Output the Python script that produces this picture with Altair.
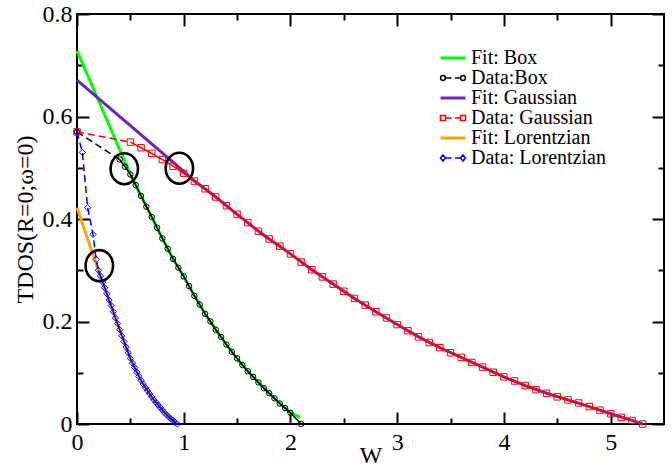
import altair as alt
import pandas as pd

# ---------------- data ----------------
series_names = ["Fit: Box", "Data:Box", "Fit: Gaussian", "Data: Gaussian",
                "Fit: Lorentzian", "Data: Lorentzian"]
series_colors = ["#00ff00", "#000000", "#7221bc", "#ff0000", "#ffa500", "#0000ff"]

box_x = [0.0, 0.4, 0.45, 0.5, 0.55, 0.6, 0.65, 0.7, 0.75, 0.8, 0.85, 0.9, 0.95,
         1.0, 1.05, 1.1, 1.15, 1.2, 1.25, 1.3, 1.35, 1.4, 1.45, 1.5, 1.55, 1.6,
         1.65, 1.7, 1.75, 1.8, 1.85, 1.9, 1.95, 2.0, 2.1]
box_y = [0.570, 0.516, 0.502, 0.487, 0.466, 0.445, 0.424, 0.404, 0.383, 0.362,
         0.342, 0.322, 0.305, 0.288, 0.269, 0.250, 0.233, 0.215, 0.200, 0.184,
         0.170, 0.155, 0.141, 0.128, 0.115, 0.103, 0.092, 0.081, 0.070, 0.060,
         0.050, 0.040, 0.031, 0.022, 0.000]

box_fit_x = [0.0, 0.5, 0.6, 0.7, 0.8, 0.9, 1.0, 1.1, 1.2, 1.3, 1.4, 1.5, 1.6,
             1.7, 1.8, 1.9, 2.0, 2.09]
box_fit_y = [0.728, 0.487, 0.445, 0.404, 0.362, 0.322, 0.288, 0.250, 0.215,
             0.184, 0.155, 0.128, 0.103, 0.081, 0.060, 0.040, 0.022, 0.013]

gau_x = [0.0, 0.5, 0.6, 0.7, 0.8, 0.9, 1.0, 1.1, 1.2, 1.3, 1.4, 1.5, 1.6, 1.7,
         1.8, 1.9, 2.0, 2.1, 2.2, 2.3, 2.4, 2.5, 2.6, 2.7, 2.8, 2.9, 3.0, 3.1,
         3.2, 3.3, 3.4, 3.5, 3.6, 3.7, 3.8, 3.9, 4.0, 4.1, 4.2, 4.3, 4.4, 4.5,
         4.6, 4.7, 4.8, 4.9, 5.0, 5.1, 5.2, 5.3]
gau_y = [0.570, 0.550, 0.539, 0.528, 0.516, 0.503, 0.489, 0.474, 0.459, 0.443,
         0.426, 0.409, 0.393, 0.376, 0.361, 0.347, 0.332, 0.316, 0.301, 0.287,
         0.273, 0.259, 0.245, 0.232, 0.219, 0.207, 0.194, 0.182, 0.170, 0.159,
         0.149, 0.139, 0.130, 0.120, 0.111, 0.101, 0.092, 0.084, 0.075, 0.067,
         0.060, 0.053, 0.047, 0.041, 0.034, 0.027, 0.020, 0.013, 0.007, 0.000]

gau_fit_x = [0.0, 0.5, 1.0, 1.1, 1.2, 1.3, 1.4, 1.5, 1.6, 1.7, 1.8, 1.9, 2.0,
             2.2, 2.4, 2.6, 2.8, 3.0, 3.2, 3.4, 3.6, 3.8, 4.0, 4.2, 4.4, 4.6,
             4.8, 5.0, 5.2, 5.3]
gau_fit_y = [0.671, 0.582, 0.493, 0.474, 0.459, 0.443, 0.426, 0.409, 0.393,
             0.376, 0.361, 0.347, 0.332, 0.301, 0.273, 0.245, 0.219, 0.194,
             0.170, 0.149, 0.130, 0.111, 0.092, 0.075, 0.060, 0.047, 0.034,
             0.020, 0.007, 0.000]

lor_x = [0.0, 0.05, 0.1, 0.15, 0.18, 0.20, 0.22, 0.24, 0.26, 0.28, 0.30, 0.32,
         0.34, 0.36, 0.38, 0.40, 0.42, 0.44, 0.46, 0.48, 0.50, 0.52, 0.54, 0.56,
         0.58, 0.60, 0.62, 0.64, 0.66, 0.68, 0.70, 0.72, 0.74, 0.76, 0.78, 0.80,
         0.82, 0.84, 0.86, 0.88, 0.90, 0.92, 0.94]
lor_y = [0.570, 0.530, 0.422, 0.370, 0.321, 0.300, 0.289, 0.277, 0.266, 0.254,
         0.242, 0.231, 0.219, 0.207, 0.196, 0.184, 0.172, 0.161, 0.150, 0.139,
         0.128, 0.119, 0.110, 0.101, 0.093, 0.085, 0.078, 0.071, 0.065, 0.059,
         0.053, 0.047, 0.042, 0.037, 0.032, 0.027, 0.022, 0.018, 0.014, 0.010,
         0.007, 0.003, 0.000]

lor_fit_x = [0.0, 0.2, 0.3, 0.4, 0.5, 0.6, 0.7, 0.8, 0.9, 0.92]
lor_fit_y = [0.422, 0.300, 0.242, 0.184, 0.128, 0.085, 0.053, 0.027, 0.007, 0.003]

ring_x = [0.443, 0.959, 0.209]
ring_y = [0.498, 0.499, 0.309]

x_major = [0, 1, 2, 3, 4, 5]
x_minor = [0.5, 1.5, 2.5, 3.5, 4.5]
y_major = [0.0, 0.2, 0.4, 0.6, 0.8]
y_minor = [0.1, 0.3, 0.5, 0.7]

# ---------------- style ----------------
W, H = 587, 410
FONT = "Liberation Serif"
PURPLE = series_colors[2]

xs = alt.Scale(domain=[0, 5.5], nice=False, zero=False)
ys = alt.Scale(domain=[0, 0.8], nice=False, zero=False)

fit_glyph = "M -2.08 -0.11 L 2.08 -0.11 M -2.08 0.11 L 2.08 0.11"
circ_glyph = ("M -2.07 0 A 0.4 0.4 0 1 1 -1.27 0 A 0.4 0.4 0 1 1 -2.07 0 "
              "M -1.27 0 L -0.25 0 M 0.33 0 L 1.27 0 "
              "M 1.27 0 A 0.4 0.4 0 1 1 2.07 0 A 0.4 0.4 0 1 1 1.27 0")
sq_glyph = ("M -2.09 -0.42 L -1.25 -0.42 L -1.25 0.42 L -2.09 0.42 Z "
            "M -1.25 0 L -0.25 0 M 0.33 0 L 1.25 0 "
            "M 1.25 -0.42 L 2.09 -0.42 L 2.09 0.42 L 1.25 0.42 Z")
dia_glyph = ("M -1.67 -0.5 L -1.25 0 L -1.67 0.5 L -2.09 0 Z "
             "M -1.25 0 L -0.25 0 M 0.33 0 L 1.25 0 "
             "M 1.67 -0.5 L 2.09 0 L 1.67 0.5 L 1.25 0 Z")
glyphs = [fit_glyph, circ_glyph, fit_glyph, sq_glyph, fit_glyph, dia_glyph]
ellipse_path = "M 0 -1 A 0.885 1 0 1 1 0 1 A 0.885 1 0 1 1 0 -1 Z"


def tick_axis(orient, offset, values, size):
    return alt.Axis(orient=orient, offset=offset, values=values, labels=False,
                    domain=False, ticks=True, tickSize=size, tickWidth=2,
                    tickColor="black", grid=False, title="")


main_x_axis = alt.Axis(orient="bottom", values=x_major, format="d", ticks=False,
                       tickSize=0, domain=False, labelPadding=6, labelFlush=False,
                       labelOverlap=False, grid=False, titlePadding=-11)
main_y_axis = alt.Axis(orient="left", values=y_major, format="~g", ticks=False,
                       tickSize=0, domain=False, labelPadding=5, labelOverlap=False,
                       grid=False, titlePadding=5)

df_box = pd.DataFrame({"x": box_x, "y": box_y})
df_box_fit = pd.DataFrame({"x": box_fit_x, "y": box_fit_y})
df_gau = pd.DataFrame({"x": gau_x, "y": gau_y})
df_gau_fit = pd.DataFrame({"x": gau_fit_x, "y": gau_fit_y})
df_lor = pd.DataFrame({"x": lor_x, "y": lor_y})
df_lor_fit = pd.DataFrame({"x": lor_fit_x, "y": lor_fit_y})
df_ring = pd.DataFrame({"x": ring_x, "y": ring_y})
df_leg = pd.DataFrame({"series": series_names})


def enc(chart, xaxis=None, yaxis=None):
    return chart.encode(
        x=alt.X("x:Q", scale=xs, axis=xaxis),
        y=alt.Y("y:Q", scale=ys, axis=yaxis),
    )


# fits
fit_box = alt.Chart(df_box_fit).mark_line(color=series_colors[0], strokeWidth=3).encode(
    x=alt.X("x:Q", scale=xs, axis=main_x_axis, title="W"),
    y=alt.Y("y:Q", scale=ys, axis=main_y_axis, title="TDOS(R=0;ω=0)"),
)
fit_gau = enc(alt.Chart(df_gau_fit).mark_line(color=PURPLE, strokeWidth=3),
              tick_axis("top", -H, x_major, 12), tick_axis("right", -W, y_major, 12))
fit_lor = enc(alt.Chart(df_lor_fit).mark_line(color=series_colors[4], strokeWidth=3),
              tick_axis("top", -H, x_minor, 6), tick_axis("right", -W, y_minor, 6))

# data lines (dashed lead-in, then solid)
dash = [7, 4]
box_head = enc(alt.Chart(df_box).transform_filter("datum.x <= 0.4")
               .mark_line(color="black", strokeWidth=1.5, strokeDash=dash),
               tick_axis("bottom", -H, x_major, 12), tick_axis("left", -W, y_major, 12))
box_rest = enc(alt.Chart(df_box).transform_filter("datum.x >= 0.4")
               .mark_line(color="black", strokeWidth=1.5),
               tick_axis("bottom", -H, x_minor, 6), tick_axis("left", -W, y_minor, 6))
gau_head = enc(alt.Chart(df_gau).transform_filter("datum.x <= 0.5")
               .mark_line(color="#ff0000", strokeWidth=1.5, strokeDash=dash))
gau_rest = enc(alt.Chart(df_gau).transform_filter("datum.x >= 0.5")
               .mark_line(color="#ff0000", strokeWidth=1.5))
lor_head = enc(alt.Chart(df_lor).transform_filter("datum.x <= 0.2")
               .mark_line(color="#0000ff", strokeWidth=1.5, strokeDash=dash))
lor_rest = enc(alt.Chart(df_lor).transform_filter("datum.x >= 0.2")
               .mark_line(color="#0000ff", strokeWidth=1.5))

# markers
box_pts = enc(alt.Chart(df_box).mark_point(shape="circle", filled=False, size=30,
                                           color="black", strokeWidth=1, opacity=1))
gau_pts = enc(alt.Chart(df_gau).mark_point(shape="square", filled=False, size=42,
                                           color="#ff0000", strokeWidth=1, opacity=1))
lor_pts = enc(alt.Chart(df_lor).mark_point(shape="diamond", filled=False, size=40,
                                           color="#0000ff", strokeWidth=1, opacity=1))

rings = enc(alt.Chart(df_ring).mark_point(shape=ellipse_path, size=961, filled=False,
                                          color="black", strokeWidth=2.6, opacity=1))

legend = alt.Legend(orient="none", legendX=366, legendY=34, title=None, padding=0,
                    labelFont=FONT, labelFontSize=20, labelColor="black",
                    symbolSize=144, symbolStrokeWidth=1.5, labelOffset=8,
                    rowPadding=0, symbolFillColor="transparent")
legend_src = alt.Chart(df_leg).transform_filter("false").mark_point(
    filled=False, opacity=1).encode(
    color=alt.Color("series:N", scale=alt.Scale(domain=series_names, range=series_colors),
                    legend=legend),
    shape=alt.Shape("series:N", scale=alt.Scale(domain=series_names, range=glyphs),
                    legend=legend),
)

chart = alt.layer(
    fit_box, fit_gau, fit_lor,
    box_head, box_rest, gau_head, gau_rest, lor_head, lor_rest,
    box_pts, gau_pts, lor_pts, rings, legend_src,
).resolve_axis(x="independent", y="independent").properties(
    width=W, height=H,
    autosize=alt.AutoSizeParams(type="none"),
    padding={"left": 77, "top": 14, "right": 8, "bottom": 45},
).configure_view(stroke="black", strokeWidth=2).configure_axis(
    labelFont=FONT, labelFontSize=24, labelColor="black",
    titleFont=FONT, titleFontSize=24, titleFontWeight="normal", titleColor="black",
)

chart.save("out.html", embed_options={"renderer": "svg", "actions": False})
